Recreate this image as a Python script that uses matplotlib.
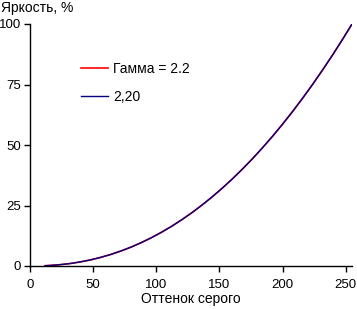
import matplotlib
matplotlib.use("Agg")
import matplotlib.pyplot as plt

gray = [12, 16, 24, 32, 40, 48, 56, 64, 72, 80, 88, 96, 104, 112, 120, 128, 136,
        144, 152, 160, 168, 176, 184, 192, 200, 208, 216, 224, 232, 240, 248, 255]
gamma_ref = [0.12, 0.23, 0.55, 1.04, 1.70, 2.54, 3.56, 4.78, 6.19, 7.80, 9.63, 11.66,
             13.90, 16.36, 19.04, 21.95, 25.09, 28.45, 32.04, 35.87, 39.93, 44.23,
             48.78, 53.56, 58.59, 63.88, 69.41, 75.19, 81.23, 87.51, 94.06, 100.0]
measured = [0.13, 0.23, 0.56, 1.03, 1.71, 2.53, 3.57, 4.77, 6.20, 7.79, 9.64, 11.65,
            13.91, 16.35, 19.05, 21.94, 25.10, 28.44, 32.05, 35.86, 39.94, 44.22,
            48.79, 53.55, 58.60, 63.87, 69.42, 75.18, 81.24, 87.50, 94.07, 100.0]
xticks = [0, 50, 100, 150, 200, 250]
yticks = [0, 25, 50, 75, 100]

plt.rcParams['font.family'] = ['Liberation Sans', 'DejaVu Sans']
plt.rcParams['font.size'] = 10

fig = plt.figure(figsize=(3.57, 3.09), dpi=100)
ax = fig.add_axes([30/357, 1-266/309, 322/357, 242/309])

ax.plot(gray, gamma_ref, color='#FF0000', lw=1.2, label='Гамма = 2.2')
ax.plot(gray, measured, color='#000080', lw=1.0, label='2,20')

ax.set_xlim(0, 255)
ax.set_ylim(0, 100)
ax.set_xticks(xticks)
ax.set_yticks(yticks)
for s in ['top', 'right']:
    ax.spines[s].set_visible(False)
ax.spines['left'].set_linewidth(1)
ax.spines['bottom'].set_linewidth(1)
ax.tick_params(axis='x', direction='out', length=4, width=1, pad=5, labelsize=9.5)
ax.tick_params(axis='y', direction='out', length=4, width=1, pad=2.5, labelsize=9.5)
ax.set_xlabel('Оттенок серого', labelpad=1)
ax.text(-29/322*255, 100 + 16/242*100, 'Яркость, %', ha='left', va='center')

leg = ax.legend(loc='upper left', bbox_to_anchor=(0.12, 0.895), frameon=False,
                handlelength=1.9, handletextpad=0.4, labelspacing=1.0)

fig.savefig('out.png', dpi=100)
